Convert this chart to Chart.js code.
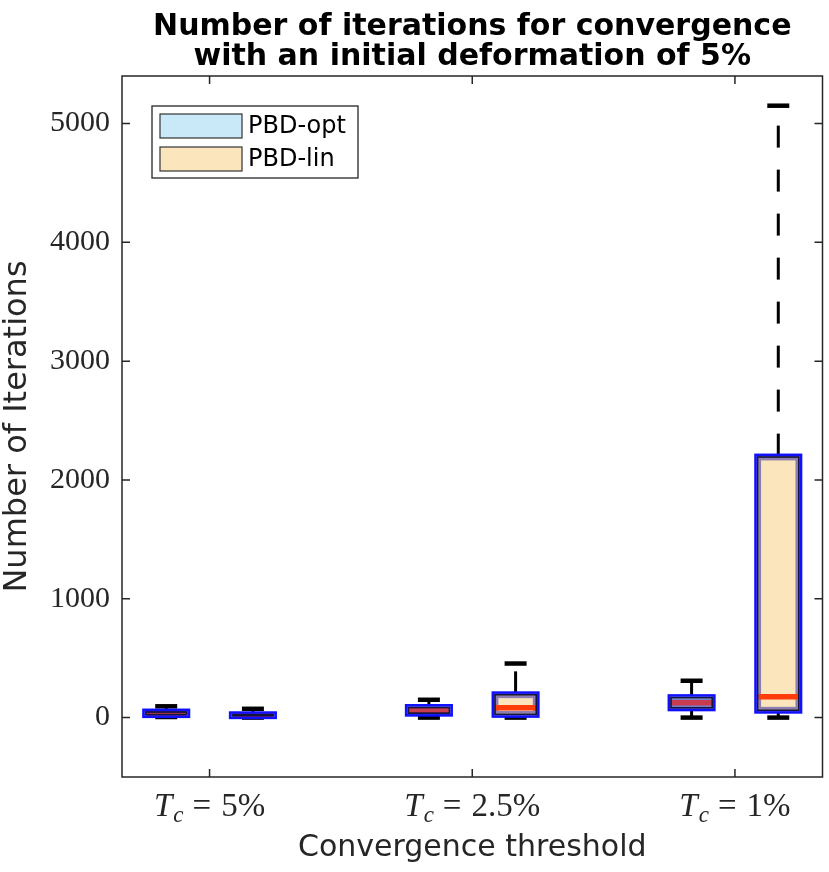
<!DOCTYPE html>
<html><head><meta charset="utf-8">
<script src="https://cdn.jsdelivr.net/npm/chart.js@4.4.1/dist/chart.umd.min.js"></script>
<style>html,body{margin:0;padding:0;background:#fff;}#wrap{width:829px;height:872px;}</style>
</head><body><div id="wrap"><canvas id="c" width="829" height="872" style="width:829px;height:872px"></canvas></div>
<script>
// ---- data ----
const categories = ['5%', '2.5%', '1%'];
const catPositions = [1, 2, 3];
const seriesNames = ['PBD-opt', 'PBD-lin'];
const optMin = [5, 0, 0];
const optQ1  = [13, 25, 70];
const optMed = [35, 60, 125];
const optQ3  = [59, 97, 180];
const optMax = [95, 150, 310];
const linMin = [0, 0, 0];
const linQ1  = [4, 15, 50];
const linMed = [18, 82, 175];
const linQ3  = [36, 204, 2205];
const linMax = [74, 455, 5150];
const yTicks = [0, 1000, 2000, 3000, 4000, 5000];
const groupOffset = 0.165;

const INK = '#262626';
const series = [
  {name: seriesNames[0], min: optMin, q1: optQ1, med: optMed, q3: optQ3, max: optMax, off: -groupOffset, fill: '#c9e9f9', median: '#c83c50'},
  {name: seriesNames[1], min: linMin, q1: linQ1, med: linMed, q3: linQ3, max: linMax, off: groupOffset, fill: '#fbe5bd', median: '#ff3c0a'}
];

const datasets = series.map(s => ({
  label: s.name,
  data: catPositions.map((c, i) => ({x: c + s.off, y: [s.q1[i], s.q3[i]]})),
  backgroundColor: s.fill,
  borderWidth: 0,
  barThickness: 44,
  grouped: false
}));

function rectStroke(ctx, l, t, r, b, inset, lw, color) {
  const L = l + inset, R = r - inset, T = t + inset, B = b - inset;
  if (R <= L || B <= T) return;
  ctx.lineWidth = lw; ctx.strokeStyle = color;
  ctx.strokeRect(L, T, R - L, B - T);
}

const boxPlugin = {
  id: 'boxplot',
  beforeDatasetsDraw(chart) {
    const ctx = chart.ctx, xs = chart.scales.x, ys = chart.scales.y;
    ctx.save();
    ctx.strokeStyle = '#000'; ctx.lineCap = 'butt';
    series.forEach(s => {
      catPositions.forEach((c, i) => {
        const x = xs.getPixelForValue(c + s.off);
        const yq3 = ys.getPixelForValue(s.q3[i]), ymax = ys.getPixelForValue(s.max[i]);
        const yq1 = ys.getPixelForValue(s.q1[i]), ymin = ys.getPixelForValue(s.min[i]);
        ctx.lineWidth = 3; ctx.setLineDash([22, 22]);
        ctx.beginPath(); ctx.moveTo(x, yq3); ctx.lineTo(x, ymax); ctx.stroke();
        ctx.beginPath(); ctx.moveTo(x, yq1); ctx.lineTo(x, ymin); ctx.stroke();
        ctx.setLineDash([]); ctx.lineWidth = 4.5;
        ctx.beginPath(); ctx.moveTo(x - 11, ymax); ctx.lineTo(x + 11, ymax); ctx.stroke();
        ctx.beginPath(); ctx.moveTo(x - 11, ymin); ctx.lineTo(x + 11, ymin); ctx.stroke();
      });
    });
    ctx.restore();
  },
  afterDatasetsDraw(chart) {
    const ctx = chart.ctx, ys = chart.scales.y;
    ctx.save();
    series.forEach((s, d) => {
      const meta = chart.getDatasetMeta(d);
      meta.data.forEach((el, i) => {
        const half = el.width / 2;
        const l = el.x - half, r = el.x + half;
        const t = Math.min(el.y, el.base), b = Math.max(el.y, el.base);
        rectStroke(ctx, l, t, r, b, 3.55, 2.5, 'rgba(50,40,170,0.55)');
        const ym = ys.getPixelForValue(s.med[i]);
        ctx.strokeStyle = s.median; ctx.lineWidth = 5.5;
        ctx.beginPath(); ctx.moveTo(l + 2, ym); ctx.lineTo(r - 2, ym); ctx.stroke();
        rectStroke(ctx, l, t, r, b, 1.4, 1.8, '#14143c');
        rectStroke(ctx, l, t, r, b, -0.75, 2.6, '#1010ff');
      });
    });
    ctx.restore();
  },
  afterDraw(chart) {
    const ctx = chart.ctx, xs = chart.scales.x, ys = chart.scales.y, a = chart.chartArea;
    ctx.save();
    // frame
    ctx.strokeStyle = INK; ctx.lineWidth = 1.5;
    ctx.strokeRect(a.left, a.top, a.right - a.left, a.bottom - a.top);
    ctx.beginPath();
    yTicks.forEach(v => {
      const y = ys.getPixelForValue(v);
      ctx.moveTo(a.left, y); ctx.lineTo(a.left + 8, y);
      ctx.moveTo(a.right, y); ctx.lineTo(a.right - 8, y);
    });
    catPositions.forEach(c => {
      const x = xs.getPixelForValue(c);
      ctx.moveTo(x, a.bottom); ctx.lineTo(x, a.bottom - 8);
      ctx.moveTo(x, a.top); ctx.lineTo(x, a.top + 8);
    });
    ctx.stroke();
    // x tick labels  T_c = value
    ctx.fillStyle = INK; ctx.textBaseline = 'alphabetic'; ctx.textAlign = 'left';
    const fMain = 'italic 33px "Liberation Serif"', fSub = 'italic 23px "Liberation Serif"', fUp = '33px "Liberation Serif"';
    categories.forEach((lab, i) => {
      const cx = xs.getPixelForValue(catPositions[i]);
      ctx.font = fMain; const wT = ctx.measureText('T').width;
      ctx.font = fSub; const wc = ctx.measureText('c').width;
      ctx.font = fUp; const wEq = ctx.measureText('=').width, wV = ctx.measureText(lab).width;
      const g1 = 9, g2 = 10;
      const total = wT + 1 + wc + g1 + wEq + g2 + wV;
      let x = cx - total / 2; const base = 816;
      ctx.font = fMain; ctx.fillText('T', x, base); x += wT + 1;
      ctx.font = fSub; ctx.fillText('c', x, base + 6); x += wc + g1;
      ctx.font = fUp; ctx.fillText('=', x, base); x += wEq + g2;
      ctx.fillText(lab, x, base);
    });
    // legend
    const lx = 152, ly = 106, lw = 206, lh = 72;
    ctx.fillStyle = '#fff'; ctx.fillRect(lx, ly, lw, lh);
    ctx.strokeStyle = INK; ctx.lineWidth = 1.3; ctx.strokeRect(lx, ly, lw, lh);
    ctx.font = '24px "DejaVu Sans"'; ctx.textBaseline = 'middle';
    series.forEach((s, k) => {
      const sy = 114 + k * 33;
      ctx.fillStyle = s.fill; ctx.fillRect(160, sy, 82, 24);
      ctx.strokeStyle = '#333'; ctx.lineWidth = 1.2; ctx.strokeRect(160, sy, 82, 24);
      ctx.fillStyle = '#000'; ctx.fillText(s.name, 248, sy + 13);
    });
    ctx.restore();
  }
};

new Chart(document.getElementById('c'), {
  type: 'bar',
  data: {datasets},
  options: {
    responsive: false,
    animation: false,
    devicePixelRatio: 1,
    layout: {padding: {left: 0, right: 6.5, top: 0, bottom: 0}},
    plugins: {
      legend: {display: false},
      tooltip: {enabled: false},
      title: {
        display: true, fullSize: false,
        text: ['Number of iterations for convergence', 'with an initial deformation of 5%'],
        color: '#000',
        font: {family: '"DejaVu Sans"', size: 30, weight: 'bold', lineHeight: 30 / 30},
        padding: {top: 12, bottom: 4}
      }
    },
    scales: {
      x: {
        type: 'linear', min: 2 / 3, max: 10 / 3, offset: false,
        grid: {display: false, drawTicks: false},
        border: {display: false},
        ticks: {display: false},
        title: {display: true, text: 'Convergence threshold', color: INK,
          font: {family: '"DejaVu Sans"', size: 30, lineHeight: 1.2}, padding: {top: 0, bottom: 6}},
        afterFit(scale) { scale.height = 95; }
      },
      y: {
        min: -500, max: 5400,
        grid: {display: false, drawTicks: false},
        border: {display: false},
        afterBuildTicks(scale) { scale.ticks = yTicks.map(v => ({value: v})); },
        ticks: {color: INK, padding: 12, font: {family: '"Liberation Serif"', size: 30},
          callback: v => String(v)},
        title: {display: true, text: 'Number of Iterations', color: INK,
          font: {family: '"DejaVu Sans"', size: 32, lineHeight: 1.1}, padding: {top: 0, bottom: 0}},
        afterFit(scale) { scale.width = 122; }
      }
    }
  },
  plugins: [boxPlugin]
});
</script></body></html>
